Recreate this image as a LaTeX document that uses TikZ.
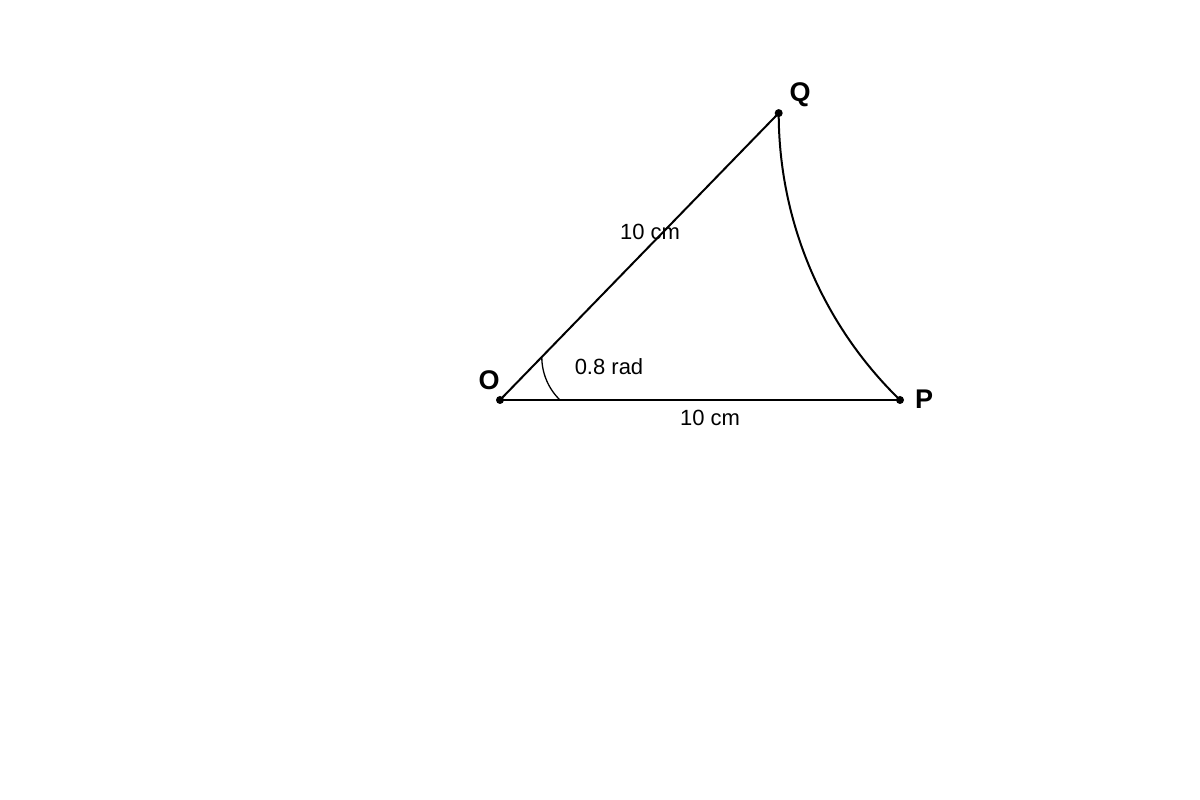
\documentclass[tikz,border=0pt]{standalone}
\usepackage{fontspec}
\setmainfont{Liberation Sans}
\begin{document}
\begin{tikzpicture}[x=1pt,y=1pt,
  edge/.style={line width=2pt, line cap=round},
  thinarc/.style={line width=1.3pt},
  dotmark/.style={fill=black},
  lbl/.style={font=\fontsize{22}{26}\selectfont, inner sep=0pt},
  ptlbl/.style={font=\fontsize{27}{31}\selectfont\bfseries, inner sep=0pt}]
\useasboundingbox (0,0) rectangle (1200,800);
\coordinate (O) at (500,400);
\coordinate (P) at (900,400);
\coordinate (Q) at (778.7,686.9);
\coordinate (A) at (541.8,443.0);
\draw[edge] (O) -- (P);
\draw[edge] (O) -- (Q);
\draw[edge] (Q) arc[start angle=180, end angle=225.84, radius=400pt];
\draw[thinarc] (A) arc[start angle=180, end angle=225.84, radius=60pt];
\fill[dotmark] (O) circle[radius=4pt];
\fill[dotmark] (P) circle[radius=4pt];
\fill[dotmark] (Q) circle[radius=4pt];
\node[ptlbl] (lO) at (489,420) {O};
\node[ptlbl] (lP) at (924,401) {P};
\node[ptlbl] (lQ) at (800,705) {Q};
\node[lbl] (lOQ) at (650,568) {10 cm};
\node[lbl] (lOP) at (710,382) {10 cm};
\node[lbl] (lang) at (609,433) {0.8 rad};
\end{tikzpicture}
\end{document}
